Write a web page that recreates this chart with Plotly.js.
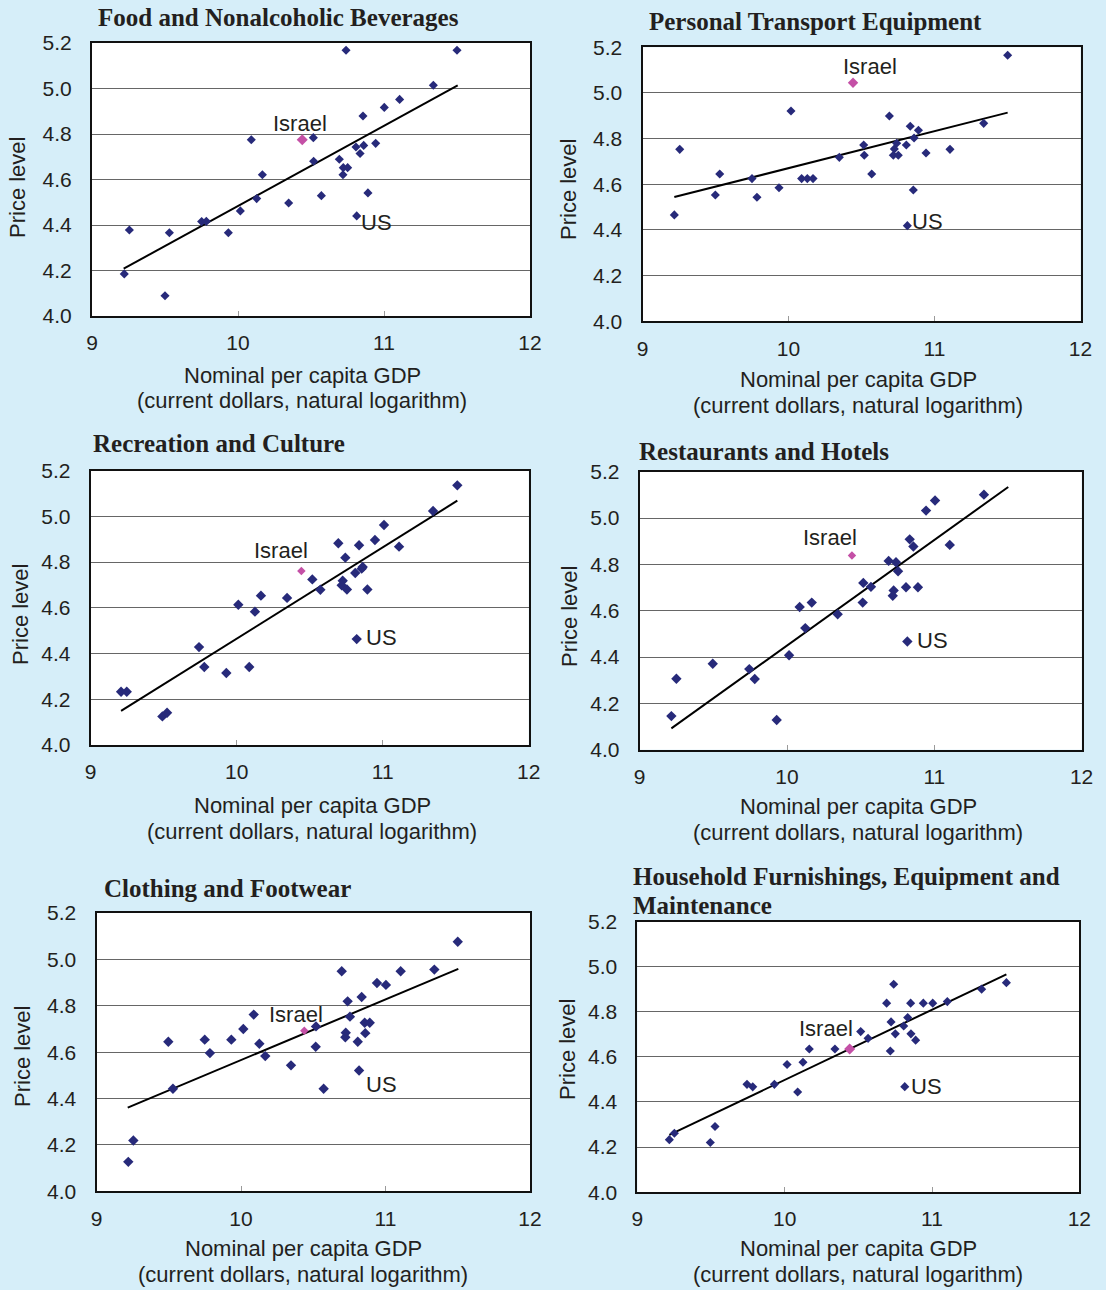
<!DOCTYPE html>
<html>
<head>
<meta charset="utf-8">
<script src="https://cdn.plot.ly/plotly-3.0.1.min.js"></script>
<style>html,body{margin:0;padding:0;background:#d6eef9;}#chart{width:1106px;height:1290px;}</style>
</head>
<body>
<div id="chart"></div>
<script>
// ---------------- DATA ----------------
const panelTitles = ["Food and Nonalcoholic Beverages", "Personal Transport Equipment", "Recreation and Culture", "Restaurants and Hotels", "Clothing and Footwear", "Household Furnishings, Equipment and|Maintenance"];
const xTickVals = [9, 10, 11, 12];
const yTickVals = [4.0, 4.2, 4.4, 4.6, 4.8, 5.0, 5.2];
const yTickText = ["4.0", "4.2", "4.4", "4.6", "4.8", "5.0", "5.2"];

const foodX = [9.221, 9.256, 9.500, 9.530, 9.751, 9.783, 9.934, 10.016, 10.091, 10.128, 10.167, 10.347, 10.516, 10.518, 10.571, 10.694, 10.721, 10.751, 10.719, 10.740, 10.808, 10.836, 10.861, 10.856, 10.813, 10.890, 10.943, 11.002, 11.107, 11.338, 11.500];
const foodY = [4.185, 4.378, 4.089, 4.366, 4.415, 4.416, 4.366, 4.462, 4.775, 4.516, 4.621, 4.497, 4.784, 4.680, 4.529, 4.689, 4.652, 4.652, 4.621, 5.168, 4.743, 4.714, 4.750, 4.879, 4.440, 4.541, 4.759, 4.917, 4.952, 5.014, 5.168];

const transportX = [9.218, 9.255, 9.499, 9.529, 9.750, 9.784, 9.935, 10.017, 10.090, 10.129, 10.168, 10.348, 10.515, 10.519, 10.570, 10.691, 10.725, 10.718, 10.752, 10.741, 10.807, 10.834, 10.860, 10.890, 10.855, 10.814, 10.942, 11.106, 11.337, 11.501];
const transportY = [4.466, 4.753, 4.553, 4.645, 4.625, 4.543, 4.585, 4.921, 4.625, 4.625, 4.625, 4.718, 4.772, 4.727, 4.645, 4.899, 4.755, 4.727, 4.727, 4.780, 4.772, 4.854, 4.803, 4.837, 4.575, 4.419, 4.737, 4.753, 4.867, 5.165];

const recreationX = [9.208, 9.247, 9.491, 9.523, 9.742, 9.778, 9.929, 10.011, 10.086, 10.125, 10.166, 10.345, 10.518, 10.573, 10.696, 10.744, 10.726, 10.719, 10.755, 10.838, 10.812, 10.856, 10.863, 10.822, 10.895, 10.947, 11.009, 11.112, 11.345, 11.511];
const recreationY = [4.233, 4.233, 4.125, 4.141, 4.428, 4.341, 4.315, 4.613, 4.341, 4.583, 4.653, 4.643, 4.724, 4.679, 4.882, 4.819, 4.718, 4.698, 4.680, 4.873, 4.752, 4.771, 4.778, 4.463, 4.680, 4.896, 4.962, 4.867, 5.023, 5.135];

const restaurantsX = [9.215, 9.249, 9.496, 9.744, 9.781, 9.930, 10.014, 10.086, 10.124, 10.168, 10.344, 10.518, 10.514, 10.570, 10.690, 10.740, 10.754, 10.724, 10.718, 10.833, 10.858, 10.808, 10.889, 10.817, 10.944, 11.005, 11.105, 11.337];
const restaurantsY = [4.145, 4.306, 4.371, 4.348, 4.305, 4.128, 4.408, 4.616, 4.525, 4.635, 4.585, 4.720, 4.635, 4.703, 4.815, 4.809, 4.770, 4.687, 4.664, 4.908, 4.877, 4.701, 4.701, 4.467, 5.032, 5.076, 4.884, 5.101];

const clothingX = [9.220, 9.255, 9.497, 9.529, 9.749, 9.785, 9.933, 10.016, 10.088, 10.127, 10.168, 10.346, 10.519, 10.517, 10.572, 10.697, 10.738, 10.754, 10.725, 10.722, 10.835, 10.856, 10.891, 10.860, 10.808, 10.817, 10.941, 11.003, 11.105, 11.338, 11.500];
const clothingY = [4.127, 4.219, 4.645, 4.442, 4.654, 4.596, 4.654, 4.700, 4.762, 4.636, 4.583, 4.543, 4.711, 4.623, 4.442, 4.949, 4.819, 4.753, 4.684, 4.664, 4.838, 4.727, 4.727, 4.682, 4.645, 4.521, 4.898, 4.890, 4.949, 4.956, 5.076];

const householdX = [9.217, 9.251, 9.495, 9.527, 9.744, 9.783, 9.930, 10.016, 10.088, 10.124, 10.167, 10.341, 10.516, 10.566, 10.692, 10.740, 10.722, 10.751, 10.717, 10.808, 10.835, 10.855, 10.857, 10.889, 10.815, 10.941, 11.005, 11.104, 11.337, 11.505];
const householdY = [4.233, 4.261, 4.220, 4.291, 4.478, 4.467, 4.478, 4.566, 4.444, 4.576, 4.635, 4.635, 4.712, 4.682, 4.838, 4.922, 4.755, 4.702, 4.626, 4.737, 4.774, 4.838, 4.702, 4.674, 4.468, 4.838, 4.838, 4.845, 4.900, 4.929];

// Israel (highlighted) per panel
const israelX = [10.440, 10.442, 10.443, 10.441, 10.438, 10.441];
const israelY = [4.775, 5.045, 4.761, 4.838, 4.692, 4.635];

// Trend line end points per panel
const trendX0 = [9.217, 9.218, 9.208, 9.215, 9.216, 9.217];
const trendX1 = [11.505, 11.501, 11.511, 11.502, 11.504, 11.505];
const trendY0 = [4.208, 4.544, 4.149, 4.092, 4.361, 4.254];
const trendY1 = [5.014, 4.914, 5.068, 5.134, 4.959, 4.966];

const pointLabels = ["Israel", "US"];

// ---------------- LAYOUT GEOMETRY (pixels) ----------------
const W = 1106, H = 1290;
const fx = p => p / W, fy = p => 1 - p / H;
const plots = [
  {L: 92,    R: 530,    T: 43,    B: 316},
  {L: 642.5, R: 1080.5, T: 47.3,  B: 321.3},
  {L: 90.7,  R: 528.7,  T: 470.5, B: 745},
  {L: 639.7, R: 1081.6, T: 471.7, B: 749.7},
  {L: 96.5,  R: 530,    T: 913,   B: 1191.3},
  {L: 637.4, R: 1079.3, T: 921.5, B: 1192.2}
];
const titlePos = [[96, 18], [647, 22], [91, 443], [637, 451], [102, 888], [631, 876]];
const titleLineGap = 29;
const yTitlePos = [[18, 188], [568, 190], [20, 615], [570, 617], [22, 1057], [567, 1050]];
const xTitlePos = [[302, 375], [858, 379], [312, 805], [858, 806], [303, 1248], [858, 1248]];
const xTitleGap = 26;
// label positions in data units (relative to each panel's axes)
const israelLabelPos = [[10.425, 4.848], [10.558, 5.114], [10.303, 4.852], [10.292, 4.917], [10.381, 4.762], [10.280, 4.724]];
const usLabelPos = [[10.952, 4.409], [10.949, 4.435], [10.995, 4.468], [10.991, 4.473], [10.969, 4.459], [10.965, 4.470]];
const markerSize = [7, 7, 8, 8, 8, 7];
const israelSize = [8.5, 8, 6.5, 6.5, 6.5, 8.5];

const seriesX = [foodX, transportX, recreationX, restaurantsX, clothingX, householdX];
const seriesY = [foodY, transportY, recreationY, restaurantsY, clothingY, householdY];

const NAVY = '#272a7a', PINK = '#c450a6', TXT = '#231f20';
const SANS = 'Liberation Sans, Arial, sans-serif';
const SERIF = 'Liberation Serif, Times New Roman, serif';

const traces = [];
const layout = {
  width: W, height: H,
  margin: {l: 0, r: 0, t: 0, b: 0},
  paper_bgcolor: '#d6eef9',
  plot_bgcolor: '#ffffff',
  showlegend: false,
  annotations: []
};

plots.forEach((g, i) => {
  const n = i + 1;
  const xa = n === 1 ? 'x' : 'x' + n;
  const ya = n === 1 ? 'y' : 'y' + n;
  const xk = n === 1 ? 'xaxis' : 'xaxis' + n;
  const yk = n === 1 ? 'yaxis' : 'yaxis' + n;

  layout[xk] = {
    domain: [fx(g.L), fx(g.R)], anchor: ya, range: [9, 12],
    tickvals: xTickVals, ticktext: xTickVals.map(String),
    ticks: 'inside', ticklen: 5, tickcolor: '#9a9a9a', tickwidth: 1,
    showgrid: false, zeroline: false,
    showline: true, linecolor: '#111', linewidth: 2, mirror: true,
    tickfont: {family: SANS, size: 21, color: TXT},
    ticklabelstandoff: 7
  };
  layout[yk] = {
    domain: [fy(g.B), fy(g.T)], anchor: xa, range: [4.0, 5.2],
    tickvals: yTickVals, ticktext: yTickText,
    ticks: '', showgrid: true, gridcolor: '#666666', gridwidth: 1,
    zeroline: false,
    showline: true, linecolor: '#111', linewidth: 2, mirror: true,
    tickfont: {family: SANS, size: 21, color: TXT},
    ticklabelstandoff: 14
  };

  traces.push({
    x: [trendX0[i], trendX1[i]], y: [trendY0[i], trendY1[i]],
    xaxis: xa, yaxis: ya, mode: 'lines', type: 'scatter',
    line: {color: '#000', width: 2}, hoverinfo: 'skip'
  });
  traces.push({
    x: seriesX[i], y: seriesY[i], xaxis: xa, yaxis: ya,
    mode: 'markers', type: 'scatter',
    marker: {symbol: 'diamond', size: markerSize[i], color: NAVY, line: {width: 0}}
  });
  traces.push({
    x: [israelX[i]], y: [israelY[i]], xaxis: xa, yaxis: ya,
    mode: 'markers', type: 'scatter',
    marker: {symbol: 'diamond', size: israelSize[i], color: PINK, line: {width: 0}}
  });

  // chart title
  const tParts = panelTitles[i].split('|');
  tParts.forEach((t, k) => {
    layout.annotations.push({
      xref: 'paper', yref: 'paper', x: fx(titlePos[i][0]), y: fy(titlePos[i][1] + k * titleLineGap),
      xanchor: 'left', yanchor: 'middle', showarrow: false, text: '<b>' + t + '</b>',
      font: {family: SERIF, size: 25, color: TXT}
    });
  });
  // y title
  layout.annotations.push({
    xref: 'paper', yref: 'paper', x: fx(yTitlePos[i][0]), y: fy(yTitlePos[i][1]),
    xanchor: 'center', yanchor: 'middle', showarrow: false, textangle: -90,
    text: 'Price level', font: {family: SANS, size: 22, color: TXT}
  });
  // x title (two lines)
  ['Nominal per capita GDP', '(current dollars, natural logarithm)'].forEach((t, k) => {
    layout.annotations.push({
      xref: 'paper', yref: 'paper', x: fx(xTitlePos[i][0]), y: fy(xTitlePos[i][1] + k * xTitleGap),
      xanchor: 'center', yanchor: 'middle', showarrow: false,
      text: t, font: {family: SANS, size: 22, color: TXT}
    });
  });
  // point labels
  [israelLabelPos[i], usLabelPos[i]].forEach((p, k) => {
    layout.annotations.push({
      xref: xa, yref: ya, x: p[0], y: p[1], xanchor: 'center', yanchor: 'middle',
      showarrow: false, text: pointLabels[k], font: {family: SANS, size: 22, color: TXT}
    });
  });
});

Plotly.newPlot('chart', traces, layout, {displayModeBar: false, staticPlot: true});
</script>
</body>
</html>
